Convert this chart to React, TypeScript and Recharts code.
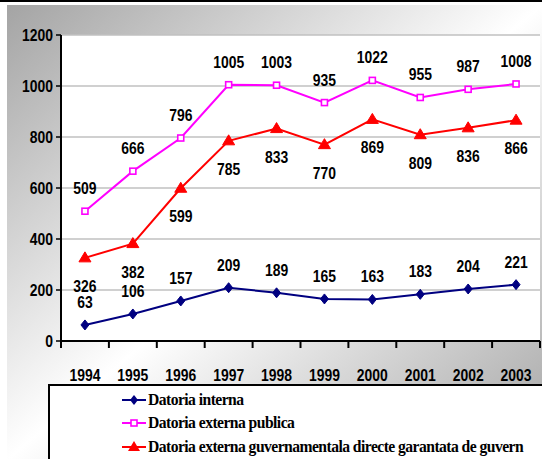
import React from "react";
import { LineChart, Line, XAxis, YAxis, CartesianGrid, LabelList, Legend } from "recharts";

const years = ["1994", "1995", "1996", "1997", "1998", "1999", "2000", "2001", "2002", "2003"];
const datoriaInterna = [63, 106, 157, 209, 189, 165, 163, 183, 204, 221];
const datoriaExternaPublica = [509, 666, 796, 1005, 1003, 935, 1022, 955, 987, 1008];
const datoriaGuvern = [326, 382, 599, 785, 833, 770, 869, 809, 836, 866];
const yTicks = [0, 200, 400, 600, 800, 1000, 1200];

const seriesNames = {
  interna: "Datoria interna",
  publica: "Datoria externa publica",
  guvern: "Datoria externa guvernamentala directe garantata de guvern",
};

const data = years.map((y, i) => ({
  year: y,
  interna: datoriaInterna[i],
  publica: datoriaExternaPublica[i],
  guvern: datoriaGuvern[i],
}));

const W = 542;
const H = 459;
const M = { top: 35, right: 2, bottom: 78, left: 0 };
const Y_AXIS_W = 61;
const BAND = (W - M.left - M.right - Y_AXIS_W) / years.length;

const NUM_FONT = "'Liberation Sans', Arial, sans-serif";
const TXT_FONT = "Liberation Serif";
const SX = 0.82;

const NAVY = "#000080";
const MAGENTA = "#ff00ff";
const RED = "#ff0000";

const Diamond = (props: any) => {
  const { cx, cy } = props;
  if (cx == null || cy == null) return null;
  return <polygon points={`${cx},${cy - 5} ${cx + 4},${cy} ${cx},${cy + 5} ${cx - 4},${cy}`} fill={NAVY} stroke={NAVY} strokeWidth={1} />;
};
const Square = (props: any) => {
  const { cx, cy } = props;
  if (cx == null || cy == null) return null;
  return <rect x={cx - 3} y={cy - 3} width={6} height={6} fill="#fff" stroke={MAGENTA} strokeWidth={1.6} />;
};
const Triangle = (props: any) => {
  const { cx, cy } = props;
  if (cx == null || cy == null) return null;
  return <polygon points={`${cx},${cy - 6} ${cx + 6},${cy + 4} ${cx - 6},${cy + 4}`} fill={RED} stroke={RED} strokeWidth={1} />;
};

const NumText = ({ x, y, anchor, children }: any) => (
  <text
    transform={`translate(${x},${y}) scale(${SX},1)`}
    x={0}
    y={0}
    textAnchor={anchor}
    dominantBaseline="central"
    fontFamily={NUM_FONT}
    fontWeight="bold"
    fontSize={17}
    fill="#000"
  >
    {children}
  </text>
);

const makeLabel = (dy: number) => (props: any) => {
  const { x, y, value } = props;
  return (
    <NumText x={x} y={y + dy} anchor="middle">
      {value}
    </NumText>
  );
};

const XTick = (props: any) => {
  const { x, y, payload, index } = props;
  return (
    <g>
      <line x1={x - BAND / 2} x2={x - BAND / 2} y1={y} y2={y + 7} stroke="#000" strokeWidth={2} />
      {index === years.length - 1 && (
        <line x1={x + BAND / 2} x2={x + BAND / 2} y1={y} y2={y + 7} stroke="#000" strokeWidth={2} />
      )}
      <NumText x={x} y={y + 34} anchor="middle">
        {payload.value}
      </NumText>
    </g>
  );
};

const YTick = (props: any) => {
  const { x, y, payload } = props;
  return (
    <NumText x={x} y={y} anchor="end">
      {payload.value}
    </NumText>
  );
};

const legendItems = [
  { key: "interna", name: seriesNames.interna, color: NAVY, marker: "diamond" },
  { key: "publica", name: seriesNames.publica, color: MAGENTA, marker: "square" },
  { key: "guvern", name: seriesNames.guvern, color: RED, marker: "triangle" },
];

const LegendMarker = ({ color, marker }: { color: string; marker: string }) => (
  <svg width={24} height={14} style={{ display: "block", flex: "none" }}>
    <line x1={0} x2={24} y1={7} y2={7} stroke={color} strokeWidth={2} />
    {marker === "diamond" && <polygon points="12,2 16,7 12,12 8,7" fill={color} />}
    {marker === "square" && <rect x={9} y={4} width={6} height={6} fill="#fff" stroke={color} strokeWidth={1.6} />}
    {marker === "triangle" && <polygon points="12,1 18,11 6,11" fill={color} />}
  </svg>
);

const LegendContent = () => (
  <div
    style={{
      width: 520,
      height: 100,
      border: "2px solid #000",
      background: "#fff",
      boxSizing: "border-box",
      paddingTop: 2,
      paddingLeft: 72,
    }}
  >
    {legendItems.map((it) => (
      <div key={it.key} style={{ display: "flex", alignItems: "center", height: 23.5 }}>
        <LegendMarker color={it.color} marker={it.marker} />
        <span
          style={{
            marginLeft: 2,
            fontFamily: TXT_FONT,
            fontWeight: "bold",
            fontSize: 17,
            letterSpacing: -0.6,
            color: "#000",
            whiteSpace: "nowrap",
            display: "inline-block",
            transform: "scaleX(0.92)",
            transformOrigin: "left center",
          }}
        >
          {it.name}
        </span>
      </div>
    ))}
  </div>
);

export default function App() {
  return (
    <div style={{ position: "fixed", left: 0, top: 0, width: W, height: H, overflow: "hidden", background: "#fff" }}>
      <div style={{ position: "absolute", left: 0, top: 0, width: W, height: 2, background: "#000" }} />
      <div
        style={{
          position: "absolute",
          left: 7,
          top: 5,
          width: W - 7,
          height: 455,
          background: "linear-gradient(to bottom right, #a4a4a4 0%, #ffffff 50%, #a4a4a4 100%)",
        }}
      />
      <div style={{ position: "absolute", left: 0, top: 0 }}>
        <LineChart width={W} height={H} data={data} margin={M}>
          <CartesianGrid vertical={false} stroke="#c0c0c0" strokeWidth={1.5} fill="#fff" />
          <XAxis
            dataKey="year"
            axisLine={{ stroke: "#000", strokeWidth: 2 }}
            tickLine={false}
            tickSize={0}
            tickMargin={0}
            height={40}
            padding={{ left: BAND / 2, right: BAND / 2 }}
            tick={<XTick />}
            interval={0}
          />
          <YAxis
            domain={[0, 1200]}
            ticks={yTicks}
            width={Y_AXIS_W}
            axisLine={{ stroke: "#000", strokeWidth: 2 }}
            tickLine={{ stroke: "#000", strokeWidth: 1.5 }}
            tickSize={5}
            tickMargin={3}
            tick={<YTick />}
            interval={0}
          />
          <YAxis
            yAxisId="r"
            orientation="right"
            domain={[0, 1200]}
            width={0}
            axisLine={{ stroke: "#c0c0c0", strokeWidth: 2 }}
            tick={false}
            tickLine={false}
          />
          <Legend
            layout="vertical"
            align="center"
            verticalAlign="middle"
            wrapperStyle={{ left: 48, top: 384, width: 520, height: 100 }}
            content={<LegendContent />}
          />
          <Line
            type="linear"
            dataKey="interna"
            name={seriesNames.interna}
            stroke={NAVY}
            strokeWidth={2}
            dot={<Diamond />}
            isAnimationActive={false}
          >
            <LabelList dataKey="interna" content={makeLabel(-23)} />
          </Line>
          <Line
            type="linear"
            dataKey="publica"
            name={seriesNames.publica}
            stroke={MAGENTA}
            strokeWidth={2}
            dot={<Square />}
            isAnimationActive={false}
          >
            <LabelList dataKey="publica" content={makeLabel(-23)} />
          </Line>
          <Line
            type="linear"
            dataKey="guvern"
            name={seriesNames.guvern}
            stroke={RED}
            strokeWidth={2}
            dot={<Triangle />}
            isAnimationActive={false}
          >
            <LabelList dataKey="guvern" content={makeLabel(28)} />
          </Line>
        </LineChart>
      </div>
    </div>
  );
}
